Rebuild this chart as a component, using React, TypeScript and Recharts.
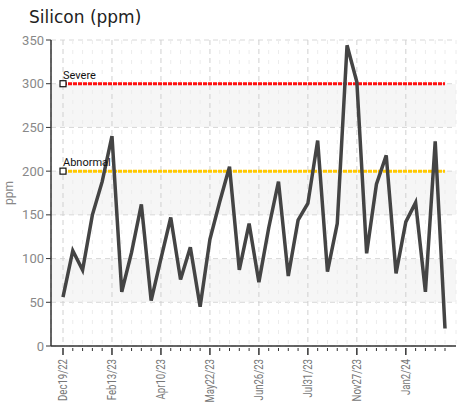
import React from "react";
import { LineChart, Line, XAxis, YAxis, CartesianGrid } from "recharts";

const tickLabels = ["Dec19/22", "Feb13/23", "Apr10/23", "May22/23", "Jun26/23", "Jul31/23", "Nov27/23", "Jan2/24"];

const silicon = [
  56, 109, 87, 150, 188, 240, 62, 107, 162, 52,
  100, 147, 76, 113, 45, 122, 165, 205, 87, 140,
  73, 135, 188, 80, 144, 163, 235, 85, 140, 344,
  302, 106, 185, 218, 83, 142, 164, 62, 234, 20,
];

const severeLimit = 300;
const abnormalLimit = 200;
const yTicks = [0, 50, 100, 150, 200, 250, 300, 350];

const data = silicon.map((v, i) => ({
  date: i % 5 === 0 ? tickLabels[i / 5] : `p${i}`,
  silicon: v,
  severe: severeLimit,
  abnormal: abnormalLimit,
}));

const tickFont = "'Roboto', 'Liberation Sans', sans-serif";

function DateTick(props: any) {
  const { x, y, payload, index } = props;
  const major = index % 5 === 0;
  return (
    <g>
      <line x1={x} y1={y - 6} x2={x} y2={y + (major ? 1 : -3)} stroke="#333" strokeWidth={major ? 1.5 : 1} />
      {major && (
        <text
          transform={`translate(${x + 4},${y + 5}) rotate(-90) scale(0.8,1)`}
          textAnchor="end"
          fontSize={12}
          fill="#777"
          fontFamily={tickFont}
        >
          {payload.value}
        </text>
      )}
    </g>
  );
}

function LimitDot(label: string) {
  return (props: any) => {
    const { cx, cy, index } = props;
    if (index !== 0) return <g key={index} />;
    return (
      <g key={index}>
        <rect x={cx - 3} y={cy - 3} width={6} height={6} fill="#fff" stroke="#111" strokeWidth={1.2} />
        <text x={cx} y={cy - 5} fontSize={11} fill="#111" fontFamily={tickFont}>
          {label}
        </text>
      </g>
    );
  };
}

function VLine(props: any) {
  const { x1, y1, x2, y2, index } = props;
  const major = index % 5 === 0;
  return (
    <line
      key={`v-${index}`}
      x1={x1}
      y1={y1}
      x2={x2}
      y2={y2}
      stroke={major ? "#d0d0d0" : "#ececec"}
      strokeDasharray={major ? "5 4" : "4 6"}
    />
  );
}

export default function App() {
  return (
    <div style={{ position: "absolute", left: 0, top: 0, width: 458, height: 404, background: "#fff" }}>
      <div
        style={{
          position: "absolute",
          left: 29,
          top: 7,
          fontFamily: "'DejaVu Sans', Verdana, sans-serif",
          fontSize: 17,
          color: "#222",
        }}
      >
        Silicon (ppm)
      </div>
      <LineChart width={458} height={404} data={data} margin={{ top: 40, right: 2, bottom: 3, left: 11 }}>
        <CartesianGrid
          strokeDasharray="5 4"
          stroke="#d8d8d8"
          horizontalFill={["#ffffff", "#f6f6f6"]}
          vertical={VLine}
        />
        <XAxis
          dataKey="date"
          interval={0}
          height={55}
          padding={{ left: 12, right: 11 }}
          axisLine={{ stroke: "#333", strokeWidth: 1.5 }}
          tickLine={false}
          tick={<DateTick />}
        />
        <YAxis
          domain={[0, 350]}
          ticks={yTicks}
          width={40}
          axisLine={{ stroke: "#333", strokeWidth: 1.5 }}
          tickLine={{ stroke: "#333" }}
          tickSize={5}
          tick={{ fontSize: 13, fill: "#888", fontFamily: tickFont }}
          label={{
            value: "ppm",
            angle: -90,
            position: "insideLeft",
            offset: -2,
            style: { fontSize: 12, fill: "#888", fontFamily: tickFont, textAnchor: "middle" },
          }}
        />
        <Line
          dataKey="severe"
          stroke="#ff1010"
          strokeWidth={3}
          strokeDasharray="4 1"
          dot={LimitDot("Severe")}
          activeDot={false}
          isAnimationActive={false}
        />
        <Line
          dataKey="abnormal"
          stroke="#ffc800"
          strokeWidth={3}
          strokeDasharray="4 1"
          dot={LimitDot("Abnormal")}
          activeDot={false}
          isAnimationActive={false}
        />
        <Line
          dataKey="silicon"
          stroke="#444"
          strokeWidth={3.5}
          strokeLinejoin="miter"
          dot={false}
          activeDot={false}
          isAnimationActive={false}
        />
      </LineChart>
    </div>
  );
}
